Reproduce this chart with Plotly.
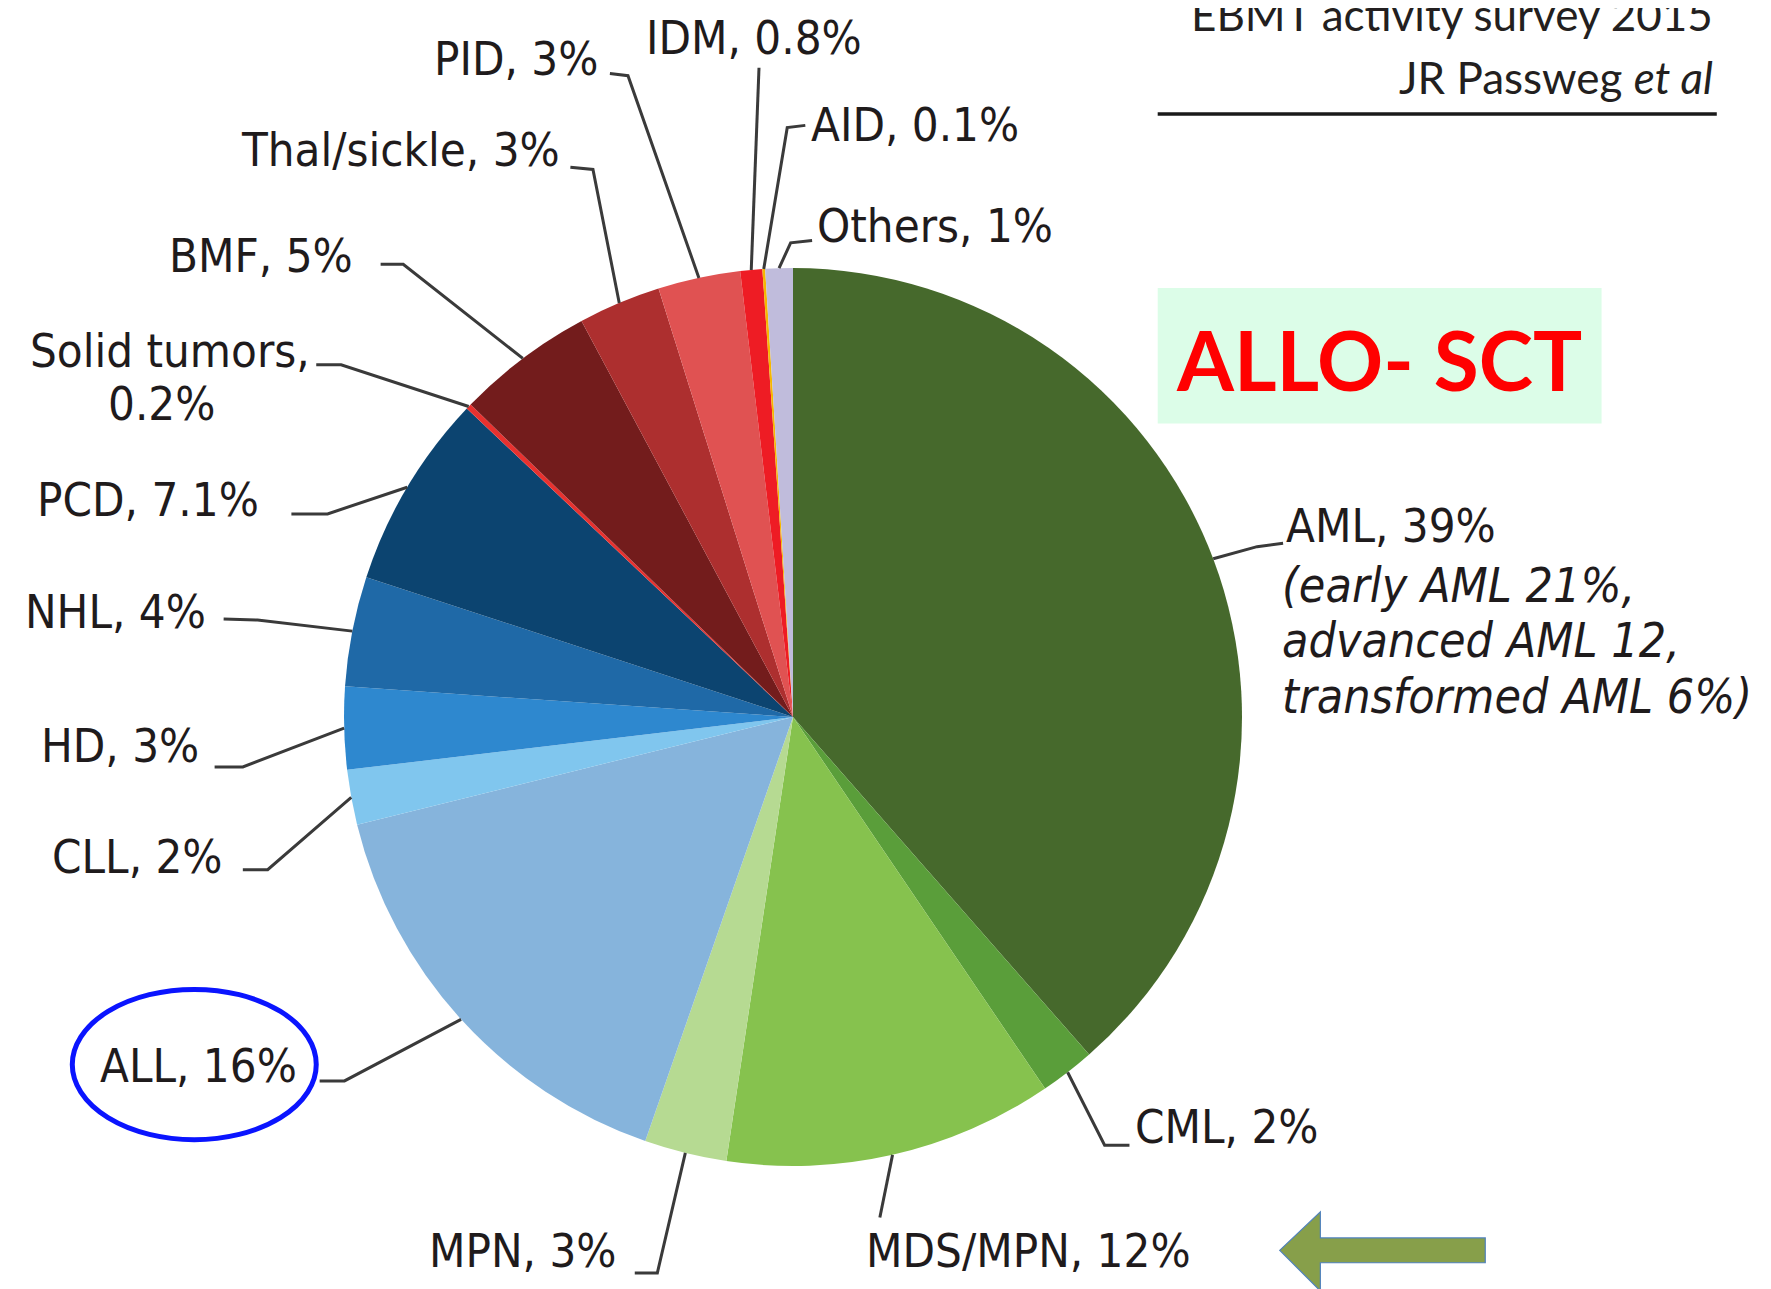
import math
import plotly.graph_objects as go

# the page body keeps an 8px margin, so the figure is sized to fit the window
OFF = 8
PAGE_W, PAGE_H = 1771, 1289
W, H = PAGE_W - OFF, PAGE_H - OFF
S = PAGE_W / 1568.0  # layout positions below were measured on a 1568-wide view

# ---------------- data ----------------
categories = ["AML", "CML", "MDS/MPN", "MPN", "ALL", "CLL", "HD", "NHL", "PCD",
              "Solid tumors", "BMF", "Thal/sickle", "PID", "IDM", "AID", "Others"]
percent = [39, 2, 12, 3, 16, 2, 3, 4, 7.1, 0.2, 5, 3, 3, 0.8, 0.1, 1]
colors = ["#46692c", "#5a9e3a", "#86c24e", "#b6da92", "#86b4dc", "#80c6ee",
          "#2e88cf", "#1f69a7", "#0c4470", "#e8312f", "#731c1c", "#ad2f2f",
          "#e05252", "#ee1c24", "#f5b800", "#c0bcdc"]
aml_detail = ["(early AML 21%,", "advanced AML 12,", "transformed AML 6%)"]
header_lines = ["EBMT activity survey 2015", "JR Passweg <i>et al</i>"]
badge_text = "ALLO- SCT"

# ---------------- geometry (page pixels) ----------------
CX, CY, R = 793.0, 717.0, 449.0


def fpx(x, y):
    """page pixel coords -> paper coords"""
    return (x - OFF) / W, 1 - (y - OFF) / H


def px(x, y):
    """display-measured coords -> paper coords"""
    return fpx(x * S, y * S)


total = sum(percent)
edge = {}
cum = 0.0
for c, v in zip(categories, percent):
    f = (cum + v / 2.0) / total
    th = 2 * math.pi * f
    edge[c] = (CX + R * math.sin(th), CY - R * math.cos(th))
    cum += v

# label placement: (x, y, xanchor, leader points before the slice edge) in display coords
labels = {
    "AML": (1137, 465, "left", [(1136, 481), (1113, 484)]),
    "CML": (1003, 997, "left", [(1000, 1014), (978, 1014)]),
    "MDS/MPN": (765, 1107, "left", [(779, 1078)]),
    "MPN": (548, 1107, "right", [(562, 1127), (582, 1127)]),
    "ALL": (265, 943, "right", [(283, 957), (305, 957)]),
    "CLL": (199, 758, "right", [(215, 770), (237, 770)]),
    "HD": (178, 660, "right", [(190, 679), (215, 679)]),
    "NHL": (184, 541, "right", [(198, 548), (228, 549)]),
    "PCD": (231, 442, "right", [(258, 455), (290, 455)]),
    "Solid tumors": (276, 310, "right", [(280, 323), (302, 323)]),
    "BMF": (314, 226, "right", [(337, 234), (357, 234)]),
    "Thal/sickle": (498, 132, "right", [(505, 148), (525, 150)]),
    "PID": (531, 52, "right", [(540, 65), (556, 67)]),
    "IDM": (570, 33, "left", [(672, 60)]),
    "AID": (716, 110, "left", [(713, 111), (697, 113)]),
    "Others": (722, 200, "left", [(719, 213), (700, 215)]),
}

LBL_FONT = "Liberation Sans Narrow, Arial Narrow, DejaVu Sans Condensed, sans-serif"
LBL_SIZE = 47
TXT_COL = "#1f1b1c"

fig = go.Figure()
dx0, dy1 = fpx(CX - R, CY - R)
dx1, dy0 = fpx(CX + R, CY + R)
fig.add_trace(go.Pie(
    labels=categories, values=percent, sort=False, direction="clockwise",
    rotation=0, textinfo="none", hoverinfo="label+percent",
    marker=dict(colors=colors, line=dict(width=0)),
    domain=dict(x=[dx0, dx1], y=[dy0, dy1]),
    showlegend=False,
))

annotations = []
shapes = []


def add_text(x, y, text, xanchor, size=LBL_SIZE, family=LBL_FONT, color=TXT_COL):
    ax, ay = px(x, y)
    annotations.append(dict(x=ax, y=ay, xref="paper", yref="paper", text=text,
                            showarrow=False, xanchor=xanchor, yanchor="middle",
                            font=dict(family=family, size=size, color=color)))


for c, v in zip(categories, percent):
    x, y, xa, pts = labels[c]
    if c == "Solid tumors":
        add_text(x, y, "Solid tumors,", "right")
        add_text(143, 357, f"{v:g}%", "center")
    else:
        add_text(x, y, f"{c}, {v:g}%", xa)
    path_pts = [px(a, b) for a, b in pts] + [fpx(*edge[c])]
    d = "M " + " L ".join(f"{p[0]:.5f},{p[1]:.5f}" for p in path_pts)
    shapes.append(dict(type="path", path=d, xref="paper", yref="paper",
                       line=dict(color="#3a3a3a", width=3)))

# AML breakdown (italic)
for i, t in enumerate(aml_detail):
    add_text(1133, 518 + i * 49, f"<i>{t}</i>", "left", size=48)

# header
HDR_FONT = "Lato, Noto Sans, sans-serif"
for i, t in enumerate(header_lines):
    add_text(1518, 12 + i * 56, t, "right", size=44, family=HDR_FONT, color="#231f20")
x0, y0 = px(1025, 101)
x1, y1 = px(1520, 101)
shapes.append(dict(type="line", x0=x0, y0=y0, x1=x1, y1=y1, xref="paper", yref="paper",
                   line=dict(color="#1a1a1a", width=3.5)))

# ALLO-SCT badge
x0, y0 = px(1025, 255)
x1, y1 = px(1418, 375)
shapes.append(dict(type="rect", x0=x0, y0=y0, x1=x1, y1=y1, xref="paper", yref="paper",
                   fillcolor="#dcfde8", line=dict(width=0), layer="below"))
add_text(1221, 318, f"<b>{badge_text}</b>", "center", size=82,
         family="Lato, Open Sans, sans-serif", color="#ff0000")

# blue ellipse around ALL label
x0, y0 = px(64, 876)
x1, y1 = px(280, 1009)
shapes.append(dict(type="circle", x0=x0, y0=y0, x1=x1, y1=y1, xref="paper", yref="paper",
                   line=dict(color="#0a14ff", width=5)))

# green arrow (pointing left)
arrow = [(1133, 1107), (1169, 1073), (1169, 1096), (1315, 1096), (1315, 1118),
         (1169, 1118), (1169, 1143)]
pp = [px(a, b) for a, b in arrow]
d = "M " + " L ".join(f"{p[0]:.5f},{p[1]:.5f}" for p in pp) + " Z"
shapes.append(dict(type="path", path=d, xref="paper", yref="paper",
                   fillcolor="#879f4a", line=dict(color="#4f81bd", width=1.2)))

fig.update_layout(
    width=W, height=H, margin=dict(l=0, r=0, t=0, b=0),
    paper_bgcolor="white", plot_bgcolor="white",
    annotations=annotations, shapes=shapes,
)

fig.write_html("out.html")
